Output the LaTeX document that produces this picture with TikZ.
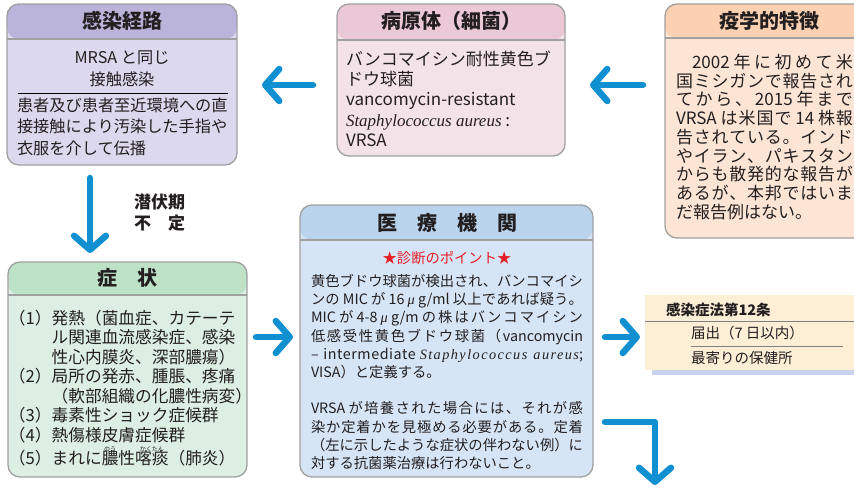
\documentclass[tikz,border=0pt]{standalone}
\usepackage{fontspec}
\setmainfont{Noto Sans CJK JP}
\newfontfamily\lserif{Liberation Serif}
\usetikzlibrary{arrows.meta}
\newcount\cjkc
\cjkc="3000 \loop \XeTeXcharclass\cjkc=7 \advance\cjkc 1 \ifnum\cjkc<"A000 \repeat
\cjkc="FF00 \loop \XeTeXcharclass\cjkc=7 \advance\cjkc 1 \ifnum\cjkc<"FFF0 \repeat
\XeTeXinterchartoks 7 7 = {\hskip 0pt plus 1fil\relax}
\XeTeXinterchartoks 0 7 = {\hskip 0pt plus 1fil\relax}
\XeTeXinterchartoks 7 0 = {\hskip 0pt plus 1fil\relax}
\definecolor{txt}{RGB}{35,31,32}
\definecolor{bordergray}{RGB}{160,160,160}
\definecolor{arrowblue}{RGB}{16,144,208}
\definecolor{aHdr}{RGB}{186,180,219}
\definecolor{aBody}{RGB}{220,216,238}
\definecolor{bHdr}{RGB}{234,200,214}
\definecolor{bBody}{RGB}{244,226,233}
\definecolor{cHdr}{RGB}{251,209,178}
\definecolor{cBody}{RGB}{253,229,214}
\definecolor{dHdr}{RGB}{190,226,200}
\definecolor{dBody}{RGB}{220,239,226}
\definecolor{eHdr}{RGB}{186,212,238}
\definecolor{eBody}{RGB}{214,229,246}
\definecolor{noticebg}{RGB}{253,238,214}
\definecolor{shadowc}{RGB}{200,210,236}
\definecolor{redc}{RGB}{230,30,40}
\newcommand\jl[2]{\makebox[#1][s]{\XeTeXinterchartokenstate=1 #2}}
\newcommand\rb[2]{\leavevmode\setbox0\hbox{#1}\rlap{\makebox[\wd0]{\raisebox{12.5pt}[0pt][0pt]{\fontsize{6}{6}\selectfont #2}}}\box0}
\newcommand\mmu{{\lserif\itshape μ}}
\newcommand\tstrut{\rule{0pt}{1em}}
\tikzset{
  box/.style={draw=bordergray, line width=1.3pt, rounded corners=12pt, inner sep=0pt},
  hdr/.style 2 args={path picture={
     \fill[#1] (path picture bounding box.north west) rectangle ([yshift=-#2]path picture bounding box.north east);
     \draw[bordergray, line width=1.2pt] ([yshift=-#2]path picture bounding box.north west) -- ([yshift=-#2]path picture bounding box.north east);}},
  htext/.style={font=\fontsize{20}{24}\bfseries\selectfont},
  bigarrow/.style={draw=arrowblue, line width=6.5pt, line cap=round, line join=round, -{Straight Barb[length=14pt, width=32pt, round]}},
  rule/.style={draw=gray, line width=0.9pt}
}
\begin{document}
\begin{tikzpicture}[x=1pt,y=-1pt, every node/.style={inner sep=0pt, outer sep=0pt, text=txt}]
\useasboundingbox (0,0) rectangle (854,488);
\clip (0,0) rectangle (854,488);
% boxes
\node[box, fill=aBody, hdr={aHdr}{35pt}, minimum width=230pt, minimum height=161pt] (b1) at (122,84.5) {};
\node[box, fill=bBody, hdr={bHdr}{36pt}, minimum width=228pt, minimum height=152pt] (b2) at (451,80) {};
\node[box, fill=cBody, hdr={cHdr}{34pt}, minimum width=210pt, minimum height=234pt] (b3) at (770,121) {};
\node[box, fill=dBody, hdr={dHdr}{33pt}, minimum width=239pt, minimum height=215pt] (b4) at (127.5,369.5) {};
\node[box, fill=eBody, hdr={eHdr}{35pt}, minimum width=293pt, minimum height=272pt] (b5) at (446.5,341) {};
\node[fill=noticebg, minimum width=215pt, minimum height=75pt, anchor=north west] (law) at (645,295) {};
\fill[shadowc] (652,370) rectangle (860,375);
% headers
\node[htext] (h1) at (122,21) {感染経路};
\node[htext] (h2) at (451,21) {病原体（細菌）};
\node[htext] (h3) at (769,21) {疫学的特徴};
\node[htext] (h4) at (127.5,278) {症　状};
\node[htext] (h5) at (447,223) {医　療　機　関};
% box 1
\node[align=center, font=\fontsize{16.2}{22}\selectfont, anchor=north] (b1top) at (122,46.8) {\tstrut MRSA と同じ\\接触感染};
\draw[black, line width=0.8pt] (18,93) -- (228,93);
\node[align=left, font=\fontsize{16.2}{21.5}\selectfont, anchor=north west] (b1txt) at (17,94.8) {\tstrut 患者及び患者至近環境への直\\接接触により汚染した手指や\\衣服を介して伝播};
% box 2
\node[align=left, font=\fontsize{17}{20.2}\selectfont, anchor=north west] (b2txt) at (346,48.5) {\tstrut バンコマイシン耐性黄色ブ\\ドウ球菌\\vancomycin-resistant\\{\lserif\itshape Staphylococcus aureus} :\\VRSA};
% box 3
\node[align=left, font=\fontsize{17}{18.7}\selectfont, anchor=north west] (b3txt) at (676,51.5) {\tstrut\jl{177pt}{\hspace*{16pt}2002 年に初めて米}\\\jl{177pt}{国ミシガンで報告され}\\\jl{177pt}{てから、2015 年まで}\\\jl{177pt}{VRSA は米国で 14 株報}\\\jl{177pt}{告されている。インド}\\\jl{177pt}{やイラン、パキスタン}\\\jl{177pt}{からも散発的な報告が}\\\jl{177pt}{あるが、本邦ではいま}\\だ報告例はない。};
% incubation label
\node[align=left, font=\fontsize{17}{21}\bfseries\selectfont, anchor=north west] (incub) at (134,191.5) {\tstrut 潜伏期\\不　定};
% box 4
\node[align=left, font=\fontsize{16.7}{19.5}\selectfont, anchor=north west] (b4txt) at (9,307.6) {\tstrut（1）発熱（菌血症、カテーテ\\\phantom{（1）}ル関連血流感染症、感染\\\phantom{（1）}性心内膜炎、深部膿瘍）\\（2）局所の発赤、腫脹、疼痛\\\phantom{（1）}（軟部組織の化膿性病変）\\（3）毒素性ショック症候群\\（4）熱傷様皮膚症候群\\[3.5pt]（5）まれに\rb{膿}{のう}性\rb{喀痰}{かくたん}（肺炎）};
% box 5
\node[font=\fontsize{14.3}{16}\selectfont, text=redc, anchor=base] (diag) at (447,263.5) {★診断のポイント★};
\node[align=left, font=\fontsize{14.3}{18.2}\selectfont, anchor=north west] (b5txt) at (311,272.1) {\tstrut\jl{272pt}{黄色ブドウ球菌が検出され、バンコマイシ}\\\jl{272pt}{ンの MIC が 16 \mmu\ g/ml 以上であれば疑う。}\\\jl{272pt}{MIC が 4-8 \mmu\ g/m の株はバンコマイシン}\\\jl{272pt}{低感受性黄色ブドウ球菌（vancomycin}\\\jl{272pt}{{\addfontfeature{LetterSpace=4}– intermediate} {\lserif\itshape\addfontfeature{LetterSpace=10}Staphylococcus aureus};}\\VISA）と定義する。\\\mbox{}\\\jl{272pt}{VRSA が培養された場合には、それが感}\\\jl{272pt}{染か定着かを見極める必要がある。定着}\\\jl{272pt}{（左に示したような症状の伴わない例）に}\\対する抗菌薬治療は行わないこと。};
% notice
\node[font=\fontsize{14.5}{16}\bfseries\selectfont, anchor=base west] (lawtitle) at (666,315.5) {感染症法第12条};
\draw[rule] (law.west |- 0,321) -- (854,321);
\node[font=\fontsize{14.5}{16}\selectfont, anchor=base west] (law1) at (691,338.5) {届出（7 日以内）};
\draw[rule] (691,346) -- (843,346);
\node[font=\fontsize{14.5}{16}\selectfont, anchor=base west] (law2) at (691,363.5) {最寄りの保健所};
% arrows
\draw[bigarrow, shorten <=24pt, shorten >=25pt] (b2.west |- 0,85) -- (b1.east |- 0,85);
\draw[bigarrow, shorten <=22pt, shorten >=25pt] (b3.west |- 0,85) -- (b2.east |- 0,85);
\draw[bigarrow, shorten <=13pt, shorten >=9pt] (b1.south -| 90,0) -- (b4.north -| 90,0);
\draw[bigarrow, shorten <=9pt, shorten >=7pt] (b4.east |- 0,337) -- (b5.west |- 0,337);
\draw[bigarrow, shorten <=12pt, shorten >=5pt] (b5.east |- 0,337) -- (law.west |- 0,337);
\coordinate (down) at (655,485);
\draw[bigarrow, shorten <=12pt] (b5.east |- 0,422) -| (down);
\end{tikzpicture}
\end{document}
